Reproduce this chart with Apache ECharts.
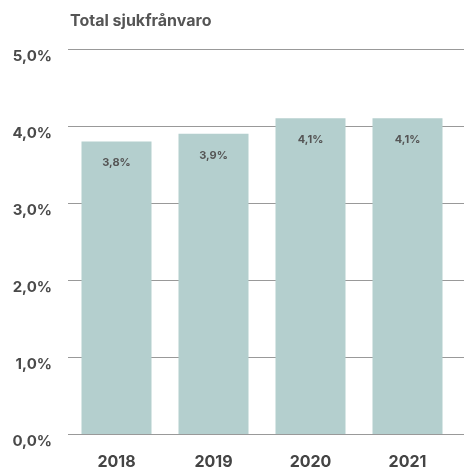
<!DOCTYPE html>
<html>
<head>
<meta charset="utf-8">
<script src="https://cdn.jsdelivr.net/npm/echarts@6/dist/echarts.min.js"></script>
<style>
  html, body { margin: 0; padding: 0; background: #fff; }
  #chart { width: 464px; height: 470px; }
</style>
</head>
<body>
<div id="chart"></div>
<script>
// data
const years = ["2018", "2019", "2020", "2021"];
const sickLeave = [3.8, 3.9, 4.1, 4.1];
const yTicks = [0, 1, 2, 3, 4, 5];

const fmtPct = (v) => v.toFixed(1).replace(".", ",") + "%";

const chart = echarts.init(document.getElementById("chart"));
const fontFamily = "Inter, 'Noto Sans', sans-serif";

const option = {
  animation: false,
  title: {
    text: "Total sjukfrånvaro",
    left: 65, top: 8,
    textStyle: { fontFamily, fontSize: 16, fontWeight: "bold", color: "#555" }
  },
  // grid 0: bars, grid 1: full-width gridlines + y labels
  grid: [
    { left: 68, right: 8, top: 49, bottom: 36 },
    { left: 68, right: 0, top: 49, bottom: 36 }
  ],
  xAxis: [
    {
      type: "category", gridIndex: 0, data: years,
      axisLine: { show: false }, axisTick: { show: false },
      axisLabel: { margin: 20, fontFamily, fontSize: 16, fontWeight: "bold", color: "#444" }
    },
    { type: "value", gridIndex: 1, show: false }
  ],
  yAxis: [
    { type: "value", gridIndex: 0, min: yTicks[0], max: yTicks[yTicks.length - 1], interval: 1, show: false },
    {
      type: "value", gridIndex: 1, min: yTicks[0], max: yTicks[yTicks.length - 1], interval: 1,
      axisLine: { show: false }, axisTick: { show: false },
      splitLine: { lineStyle: { color: "#999", width: 1 } },
      axisLabel: {
        margin: 16, verticalAlign: "top",
        fontFamily, fontSize: 15, fontWeight: "bold", color: "#4a4a4a",
        formatter: (v) => fmtPct(v)
      }
    }
  ],
  series: [{
    type: "bar", xAxisIndex: 0, yAxisIndex: 0,
    data: sickLeave, barWidth: 70, z: 3,
    itemStyle: { color: "#b4cfce" },
    label: {
      show: true, position: "insideTop", distance: 16,
      fontFamily, fontSize: 11, fontWeight: "bold", color: "#555",
      formatter: (p) => fmtPct(p.value)
    }
  }]
};

chart.setOption(option);
</script>
</body>
</html>
